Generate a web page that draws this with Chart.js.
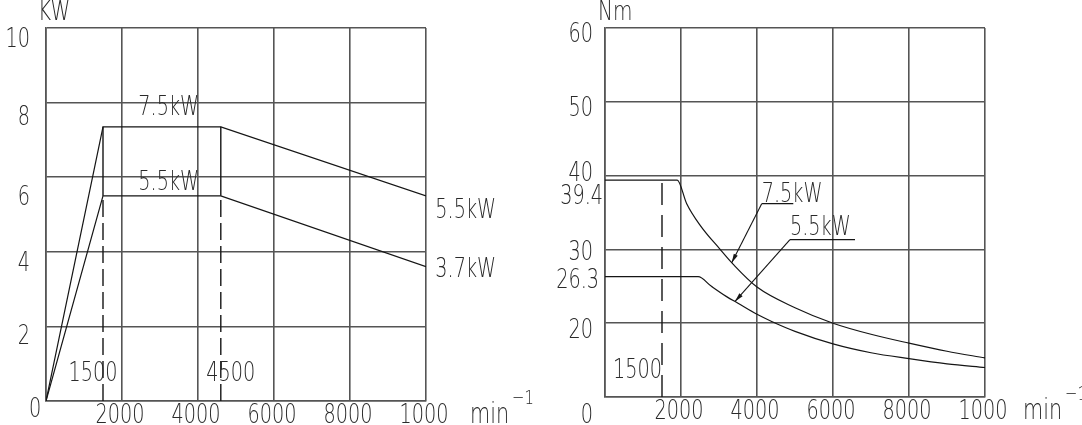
<!DOCTYPE html>
<html>
<head>
<meta charset="utf-8">
<script src="https://cdn.jsdelivr.net/npm/chart.js@4.4.1/dist/chart.umd.min.js"></script>
<style>
    html, body { margin: 0; padding: 0; background: #fff; }
    body { width: 1082px; height: 425px; position: relative; overflow: hidden; }
    canvas { position: absolute; top: 0; }
    #power-chart { left: 0; }
    #torque-chart { left: 541px; }
</style>
</head>
<body>
<canvas id="power-chart" width="541" height="425"></canvas>
<canvas id="torque-chart" width="541" height="425"></canvas>
<script>
// speed axis (min^-1), shared by both charts
const speedTicks = [0, 2000, 4000, 6000, 8000, 10000];
const speedTickLabels = ['', '2000', '4000', '6000', '8000', '1000'];

// left chart: output power (kW)
const powerTicks = [0, 2, 4, 6, 8, 10];
const powerTickLabels = ['0', '2', '4', '6', '8', '10'];
const rpm75 = [0, 1500, 4600, 10000];
const kw75 = [0, 7.35, 7.35, 5.5];
const rpm55 = [0, 1500, 4600, 10000];
const kw55 = [0, 5.5, 5.5, 3.6];

// right chart: torque (Nm), bottom gridline stands for 0
const torqueTicks = [10, 20, 26.3, 30, 39.4, 40, 50, 60];
const torqueTickLabels = ['0', '20', '26.3', '30', '39.4', '40', '50', '60'];
const torqueRpm75 = [0, 1900, 2150, 2500, 3030, 3370, 4000, 5000, 6000, 7000, 8000, 9000, 10000];
const torque75 = [39.4, 39.4, 36.2, 33.3, 30.0, 28.0, 24.9, 22.1, 20.0, 18.5, 17.3, 16.2, 15.3];
const torqueRpm55 = [0, 2450, 2800, 3200, 3500, 4000, 4400, 5000, 6000, 7000, 8000, 9000, 10000];
const torque55 = [26.3, 26.3, 25.0, 23.6, 22.7, 21.2, 20.2, 18.9, 17.2, 16.0, 15.2, 14.5, 14.0];
const baseSpeed = 1500;

const FONT_FAMILY = "'DejaVu Sans', sans-serif";
const SQUEEZE = 0.74;   // the drawing's lettering is tall and narrow
const TEXT_COLOR = '#2a2a2a';
const GRID_COLOR = '#555';
const LINE_COLOR = '#151515';

const toPoints = (xs, ys) => xs.map((x, i) => ({ x: x, y: ys[i] }));

function text(ctx, str, x, y, align, size) {
    ctx.save();
    ctx.font = '200 ' + (size || 26) + 'px ' + FONT_FAMILY;
    ctx.fillStyle = TEXT_COLOR;
    ctx.textAlign = align || 'left';
    ctx.textBaseline = 'alphabetic';
    ctx.translate(x, y);
    ctx.scale(SQUEEZE, 1);
    ctx.fillText(str, 0, 0);
    const w = ctx.measureText(str).width * SQUEEZE;
    ctx.restore();
    return w;
}

function speedUnit(ctx, x, y) {
    const w = text(ctx, 'min', x, y, 'left', 28);
    text(ctx, '\u22121', x + w + 3, y - 19, 'left', 20);
}

function line(ctx, x1, y1, x2, y2) {
    ctx.save();
    ctx.strokeStyle = LINE_COLOR;
    ctx.lineWidth = 1.1;
    ctx.beginPath();
    ctx.moveTo(x1, y1);
    ctx.lineTo(x2, y2);
    ctx.stroke();
    ctx.restore();
}

function arrowHead(ctx, fromX, fromY, tipX, tipY) {
    const a = Math.atan2(tipY - fromY, tipX - fromX);
    const len = 9, half = 2.2;
    ctx.save();
    ctx.fillStyle = LINE_COLOR;
    ctx.beginPath();
    ctx.moveTo(tipX, tipY);
    ctx.lineTo(tipX - len * Math.cos(a) + half * Math.sin(a), tipY - len * Math.sin(a) - half * Math.cos(a));
    ctx.lineTo(tipX - len * Math.cos(a) - half * Math.sin(a), tipY - len * Math.sin(a) + half * Math.cos(a));
    ctx.closePath();
    ctx.fill();
    ctx.restore();
}

function baseOptions(yMin, yMax, padding) {
    return {
        responsive: false,
        animation: false,
        devicePixelRatio: 1,
        events: [],
        layout: { padding: padding },
        plugins: { legend: { display: false }, tooltip: { enabled: false } },
        elements: { point: { radius: 0 }, line: { borderWidth: 1.2, borderColor: LINE_COLOR } },
        scales: {
            x: {
                type: 'linear', min: 0, max: 10000,
                ticks: { display: false, stepSize: 2000 },
                grid: { color: GRID_COLOR, lineWidth: 1.6, drawTicks: false },
                border: { color: GRID_COLOR, width: 1.6 },
                afterFit: s => { s.height = 0; }
            },
            y: {
                min: yMin, max: yMax,
                ticks: { display: false, stepSize: 10 },
                grid: { color: GRID_COLOR, lineWidth: 1.6, drawTicks: false },
                border: { color: GRID_COLOR, width: 1.6 },
                afterFit: s => { s.width = 0; }
            }
        }
    };
}

function drawSpeedTicks(chart, ctx, unitGap) {
    const xs = chart.scales.x;
    const bottom = chart.chartArea.bottom;
    speedTicks.forEach((v, i) => {
        if (speedTickLabels[i]) text(ctx, speedTickLabels[i], xs.getPixelForValue(v) - 2, bottom + 22, 'center');
    });
    speedUnit(ctx, chart.chartArea.right + unitGap, bottom + 22);
}

// ---------- left chart ----------
const powerLabelShift = [16, 17.5, 19, 28, 22, 19];

const powerLabels = {
    id: 'powerLabels',
    afterDraw(chart) {
        const ctx = chart.ctx;
        const xs = chart.scales.x, ys = chart.scales.y;
        const area = chart.chartArea;

        powerTicks.forEach((v, i) => {
            const y = ys.getPixelForValue(v) + powerLabelShift[i];
            if (v === 0) text(ctx, powerTickLabels[i], area.left - 11, y, 'center');
            else text(ctx, powerTickLabels[i], area.left - 16, y, 'right');
        });
        drawSpeedTicks(chart, ctx, 44);
        text(ctx, 'KW', area.left - 8, area.top - 8, 'left', 27);

        const at = (x, y) => [xs.getPixelForValue(x), ys.getPixelForValue(y)];
        let p;
        p = at(2430, 7.67); text(ctx, '7.5kW', p[0], p[1], 'left');
        p = at(2430, 5.66); text(ctx, '5.5kW', p[0], p[1], 'left');
        p = at(10245, 4.91); text(ctx, '5.5kW', p[0], p[1], 'left');
        p = at(10245, 3.32); text(ctx, '3.7kW', p[0], p[1], 'left');
        p = at(590, 0.54); text(ctx, '1500', p[0], p[1], 'left');
        p = at(4220, 0.54); text(ctx, '4500', p[0], p[1], 'left');
    }
};

const powerDatasets = [
    { data: toPoints(rpm75, kw75) },
    { data: toPoints(rpm55, kw55) }
];
[1, 2].forEach(i => {
    powerDatasets.push({ data: toPoints([rpm75[i], rpm75[i]], [kw55[i], kw75[i]]), borderWidth: 1.4 });
    powerDatasets.push({ data: toPoints([rpm75[i], rpm75[i]], [0, kw55[i]]), borderDash: [17, 6], borderWidth: 1.4 });
});

const powerOptions = baseOptions(0, 10, { left: 46, right: 115, top: 28, bottom: 24 });
powerOptions.scales.y.ticks.stepSize = 2;

new Chart(document.getElementById('power-chart'), {
    type: 'line',
    data: { datasets: powerDatasets },
    options: powerOptions,
    plugins: [powerLabels]
});

// ---------- right chart ----------
const torqueLabelShift = [26, 15, 11.7, 11, 23.6, 5, 14, 14];

const torqueLabels = {
    id: 'torqueLabels',
    afterDraw(chart) {
        const ctx = chart.ctx;
        const xs = chart.scales.x, ys = chart.scales.y;
        const area = chart.chartArea;

        torqueTicks.forEach((v, i) => {
            const y = ys.getPixelForValue(v) + torqueLabelShift[i];
            const lbl = torqueTickLabels[i];
            const x = lbl === '39.4' ? area.left - 2 : lbl === '26.3' ? area.left - 6 : area.left - 12;
            text(ctx, lbl, x, y, 'right');
        });
        drawSpeedTicks(chart, ctx, 38);
        text(ctx, 'Nm', area.left - 7, area.top - 8, 'left', 27);

        const at = (x, y) => [xs.getPixelForValue(x), ys.getPixelForValue(y)];
        let p = at(210, 12.53); text(ctx, '1500', p[0], p[1], 'left');

        // leader callouts
        const callouts = [
            { label: '7.5kW', textAt: [4124, 36.42], rule: [4124, 4955, 36.2], tip: [3334, 28.2] },
            { label: '5.5kW', textAt: [4868, 31.9], rule: [4868, 6579, 31.33], tip: [3421, 22.95] }
        ];
        callouts.forEach(c => {
            p = at(c.textAt[0], c.textAt[1]);
            text(ctx, c.label, p[0], p[1], 'left');
            const a = at(c.rule[0], c.rule[2]), b = at(c.rule[1], c.rule[2]), t = at(c.tip[0], c.tip[1]);
            line(ctx, a[0], a[1], b[0], b[1]);
            line(ctx, a[0], a[1], t[0], t[1]);
            arrowHead(ctx, a[0], a[1], t[0], t[1]);
        });
    }
};

const torqueOptions = baseOptions(10, 60, { left: 64, right: 97, top: 28, bottom: 28 });

new Chart(document.getElementById('torque-chart'), {
    type: 'line',
    data: {
        datasets: [
            { data: toPoints(torqueRpm75, torque75), cubicInterpolationMode: 'monotone' },
            { data: toPoints(torqueRpm55, torque55), cubicInterpolationMode: 'monotone' },
            { data: toPoints([baseSpeed, baseSpeed], [10, torque75[0]]), borderDash: [22, 10], borderWidth: 1.4 }
        ]
    },
    options: torqueOptions,
    plugins: [torqueLabels]
});
</script>
</body>
</html>
